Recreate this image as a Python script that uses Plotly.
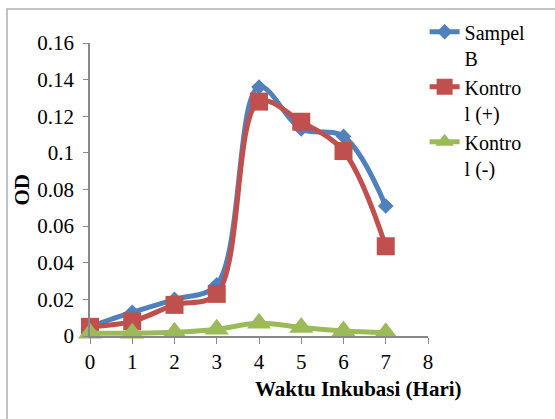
import plotly.graph_objects as go

# Waktu inkubasi (hari) dan nilai OD
days = [0, 1, 2, 3, 4, 5, 6, 7]
sampel_b = [0.005, 0.013, 0.020, 0.028, 0.136, 0.113, 0.109, 0.071]
kontrol_pos = [0.005, 0.008, 0.017, 0.023, 0.128, 0.117, 0.101, 0.049]
kontrol_neg = [0.0015, 0.0015, 0.002, 0.0037, 0.007, 0.0047, 0.0027, 0.0018]

x_ticks = [0, 1, 2, 3, 4, 5, 6, 7, 8]
y_ticks = [0, 0.02, 0.04, 0.06, 0.08, 0.1, 0.12, 0.14, 0.16]
y_labels = ['0', '0.02', '0.04', '0.06', '0.08', '0.1', '0.12', '0.14', '0.16']

FONT = 'Liberation Serif, Times New Roman, serif'

series = [
    ('Sampel<br>B', sampel_b, '#4F81BD', 'diamond', 12),
    ('Kontro<br>l (+)', kontrol_pos, '#C0504D', 'square', 18),
    ('Kontro<br>l (-)', kontrol_neg, '#9BBB59', 'triangle-up', 21),
]

fig = go.Figure()
for name, vals, color, symbol, size in series:
    fig.add_trace(go.Scatter(
        x=days, y=vals, name=name,
        mode='lines+markers',
        line={'color': color, 'width': 5, 'shape': 'spline', 'smoothing': 1},
        marker={'symbol': symbol, 'size': size, 'color': color},
        cliponaxis=False,
    ))

fig.update_layout(
    width=555, height=419,
    margin={'l': 90, 'r': 127, 't': 43, 'b': 83},
    paper_bgcolor='white', plot_bgcolor='white',
    font={'family': FONT, 'size': 21, 'color': 'black'},
    showlegend=True,
    legend={
        'x': 0.99, 'y': 1.105, 'xanchor': 'left', 'yanchor': 'top',
        'valign': 'top', 'font': {'size': 20},
        'bgcolor': 'rgba(0,0,0,0)', 'tracegroupgap': 0,
    },
    xaxis={
        'range': [0, 8], 'tickvals': x_ticks, 'showgrid': False, 'zeroline': False,
        'showline': True, 'linecolor': '#888888', 'linewidth': 1.5,
        'ticks': 'outside', 'ticklen': 6, 'tickcolor': '#888888',
        'tickfont': {'size': 21},
    },
    yaxis={
        'range': [0, 0.16], 'tickvals': y_ticks, 'ticktext': y_labels,
        'showgrid': False, 'zeroline': False,
        'showline': True, 'linecolor': '#888888', 'linewidth': 1.5,
        'ticks': 'outside', 'ticklen': 5, 'tickcolor': '#888888',
        'ticklabelstandoff': 5,
        'tickfont': {'size': 21},
    },
    annotations=[
        dict(text='<b>Waktu Inkubasi (Hari)</b>', xref='paper', yref='paper',
             x=0.793, y=-0.181, xanchor='center', yanchor='middle',
             showarrow=False, font={'size': 21}),
        dict(text='<b>OD</b>', xref='paper', yref='paper', textangle=-90,
             x=-0.204, y=0.5, xanchor='center', yanchor='middle',
             showarrow=False, font={'size': 21}),
    ],
    shapes=[
        dict(type='rect', xref='paper', yref='paper',
             x0=-0.2456, x1=1.45, y0=-0.4, y1=1.116,
             line={'color': '#b0b0b0', 'width': 1.5}),
    ],
)

fig.write_html('out.html', config={'displayModeBar': False},
               post_script="document.body.style.margin='0';")
